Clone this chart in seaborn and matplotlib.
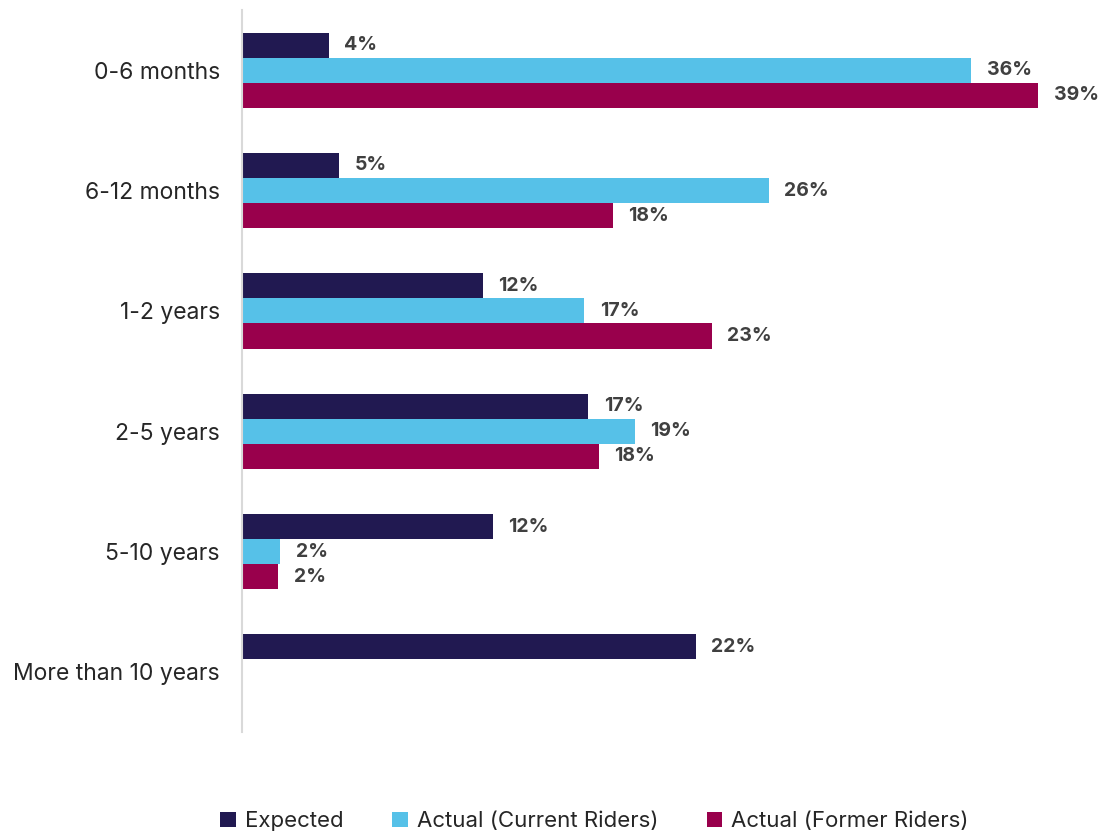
import pandas as pd
import numpy as np
import matplotlib
matplotlib.use("Agg")
import matplotlib.pyplot as plt
import seaborn as sns

# values (percent)
categories = ['0-6 months', '6-12 months', '1-2 years', '2-5 years', '5-10 years', 'More than 10 years']
series = ['Expected', 'Actual (Current Riders)', 'Actual (Former Riders)']
expected = [4.3, 4.8, 11.9, 17.1, 12.4, 22.4]
current = [36.0, 26.0, 16.9, 19.4, 1.9, np.nan]
former = [39.3, 18.3, 23.2, 17.6, 1.8, np.nan]
expected_labels = ['4%', '5%', '12%', '17%', '12%', '22%']
current_labels = ['36%', '26%', '17%', '19%', '2%', '']
former_labels = ['39%', '18%', '23%', '18%', '2%', '']

colors = ['#211951', '#56C1E8', '#99004C']

df = pd.DataFrame({
    'period': categories * 3,
    'series': [s for s in series for _ in categories],
    'value': expected + current + former,
})
# no answer for >10 years in the actual groups -> empty bar
df['value'] = df['value'].fillna(0)

sns.set_style('white')
plt.rcParams['font.family'] = ['Inter', 'DejaVu Sans']

fig = plt.figure(figsize=(11.05, 8.32), dpi=100)
ax = fig.add_axes([0.219, 0.12, 0.76, 0.868])

sns.barplot(data=df, y='period', x='value', hue='series', order=categories,
            hue_order=series, palette=colors, orient='h', width=0.625,
            linewidth=0, saturation=1, ax=ax, legend=True)

for cont, labs in zip(ax.containers, [expected_labels, current_labels, former_labels]):
    ax.bar_label(cont, labels=labs, padding=11, fontsize=14, fontweight='bold',
                 color='#404040', clip_on=False)

ax.set_xlim(0, 41.45)
ax.set_ylim(5.5, -0.5)
ax.set_xlabel('')
ax.set_ylabel('')
ax.set_xticks([])
ax.tick_params(axis='y', length=0, pad=16, labelsize=16.5)
for s in ['top', 'right', 'bottom']:
    ax.spines[s].set_visible(False)
ax.spines['left'].set_color('#d9d9d9')
ax.spines['left'].set_linewidth(1.5)

handles, labels = ax.get_legend_handles_labels()
ax.get_legend().remove()
fig.legend(handles, labels, loc='center', bbox_to_anchor=(0.538, 0.013), ncol=3,
           frameon=False, fontsize=16, handlelength=0.7, handleheight=0.7,
           handletextpad=0.4, columnspacing=2.2)

plt.savefig('out.png', dpi=100)
